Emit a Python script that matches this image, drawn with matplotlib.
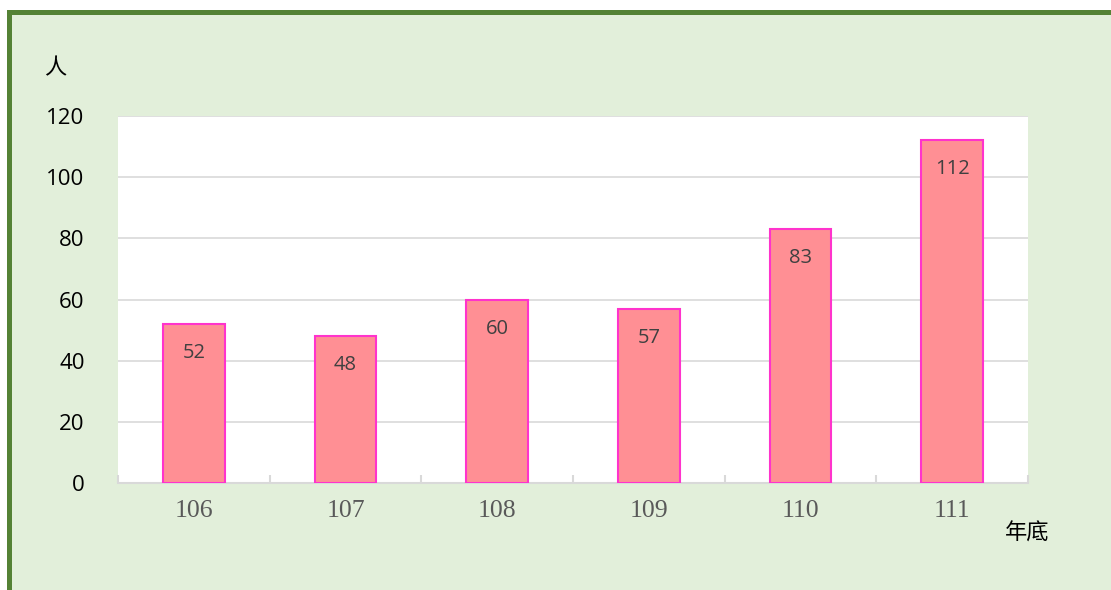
import matplotlib
matplotlib.use("Agg")
import matplotlib.pyplot as plt
from matplotlib.patches import Rectangle
import numpy as np

categories = ["106", "107", "108", "109", "110", "111"]
values = [52, 48, 60, 57, 83, 112]
yticks = [0, 20, 40, 60, 80, 100, 120]

W, H = 1111, 590
fig = plt.figure(figsize=(W / 100, H / 100), dpi=100)
fig.patch.set_facecolor("white")

def px(x0, y0, x1, y1):
    return (x0 / W, 1 - y1 / H, (x1 - x0) / W, (y1 - y0) / H)

# background panel with green border
bx, by, bw, bh = px(7, 10, W + 20, H + 20)
fig.patches.append(Rectangle((bx, by), bw, bh, transform=fig.transFigure,
                             facecolor="#E2EFDA", edgecolor="none", zorder=-10))
bx, by, bw, bh = px(7, 10, W + 5, 15)
fig.patches.append(Rectangle((bx, by), bw, bh, transform=fig.transFigure,
                             facecolor="#548235", edgecolor="none", zorder=-9))
bx, by, bw, bh = px(7, 10, 12, H + 5)
fig.patches.append(Rectangle((bx, by), bw, bh, transform=fig.transFigure,
                             facecolor="#548235", edgecolor="none", zorder=-9))

ax = fig.add_axes(px(118, 116, 1028, 483))
ax.set_zorder(5)
ax.set_facecolor("white")
x = np.arange(len(categories))
bars = ax.bar(x, values, width=0.405, color="#FF8F94", edgecolor="#FF33CC",
              linewidth=1.5, zorder=3)
ax.set_xlim(-0.5, len(categories) - 0.5)
ax.set_ylim(0, 120)
ax.set_yticks(yticks)
ax.set_yticklabels([str(v) for v in yticks], fontsize=16, color="black",
                   family="Open Sans")
ax.set_xticks(x)
ax.set_xticklabels(categories, fontsize=18.5, color="#595959", family="Liberation Serif")
ax.tick_params(axis="x", which="major", length=0, pad=12)
ax.tick_params(axis="y", length=0, pad=24)
ax.set_xticks(np.arange(-0.5, len(categories)), minor=True)
ax.tick_params(axis="x", which="minor", direction="in", length=6, color="#D9D9D9", width=1.5)
ax.grid(axis="y", color="#D9D9D9", linewidth=1.2, zorder=0)
ax.set_axisbelow(True)
for s in ["top", "right", "left"]:
    ax.spines[s].set_visible(False)
ax.spines["bottom"].set_color("#D9D9D9")
ax.spines["bottom"].set_linewidth(1.5)

for xi, v in zip(x, values):
    ax.annotate(str(v), (xi, v), xytext=(0, -29), textcoords="offset pixels",
                ha="center", va="center", fontsize=14.5, color="#404040",
                family="Open Sans", zorder=4)

fig.text(55 / W, 1 - 68 / H, "人", fontsize=16, family=["Noto Sans CJK TC", "DejaVu Sans"],
         ha="center", va="center", color="black")
fig.text(1027 / W, 1 - 533 / H, "年底", fontsize=16, family=["Noto Sans CJK TC", "DejaVu Sans"],
         ha="center", va="center", color="black")

fig.savefig("out.png", dpi=100, facecolor=fig.get_facecolor())
